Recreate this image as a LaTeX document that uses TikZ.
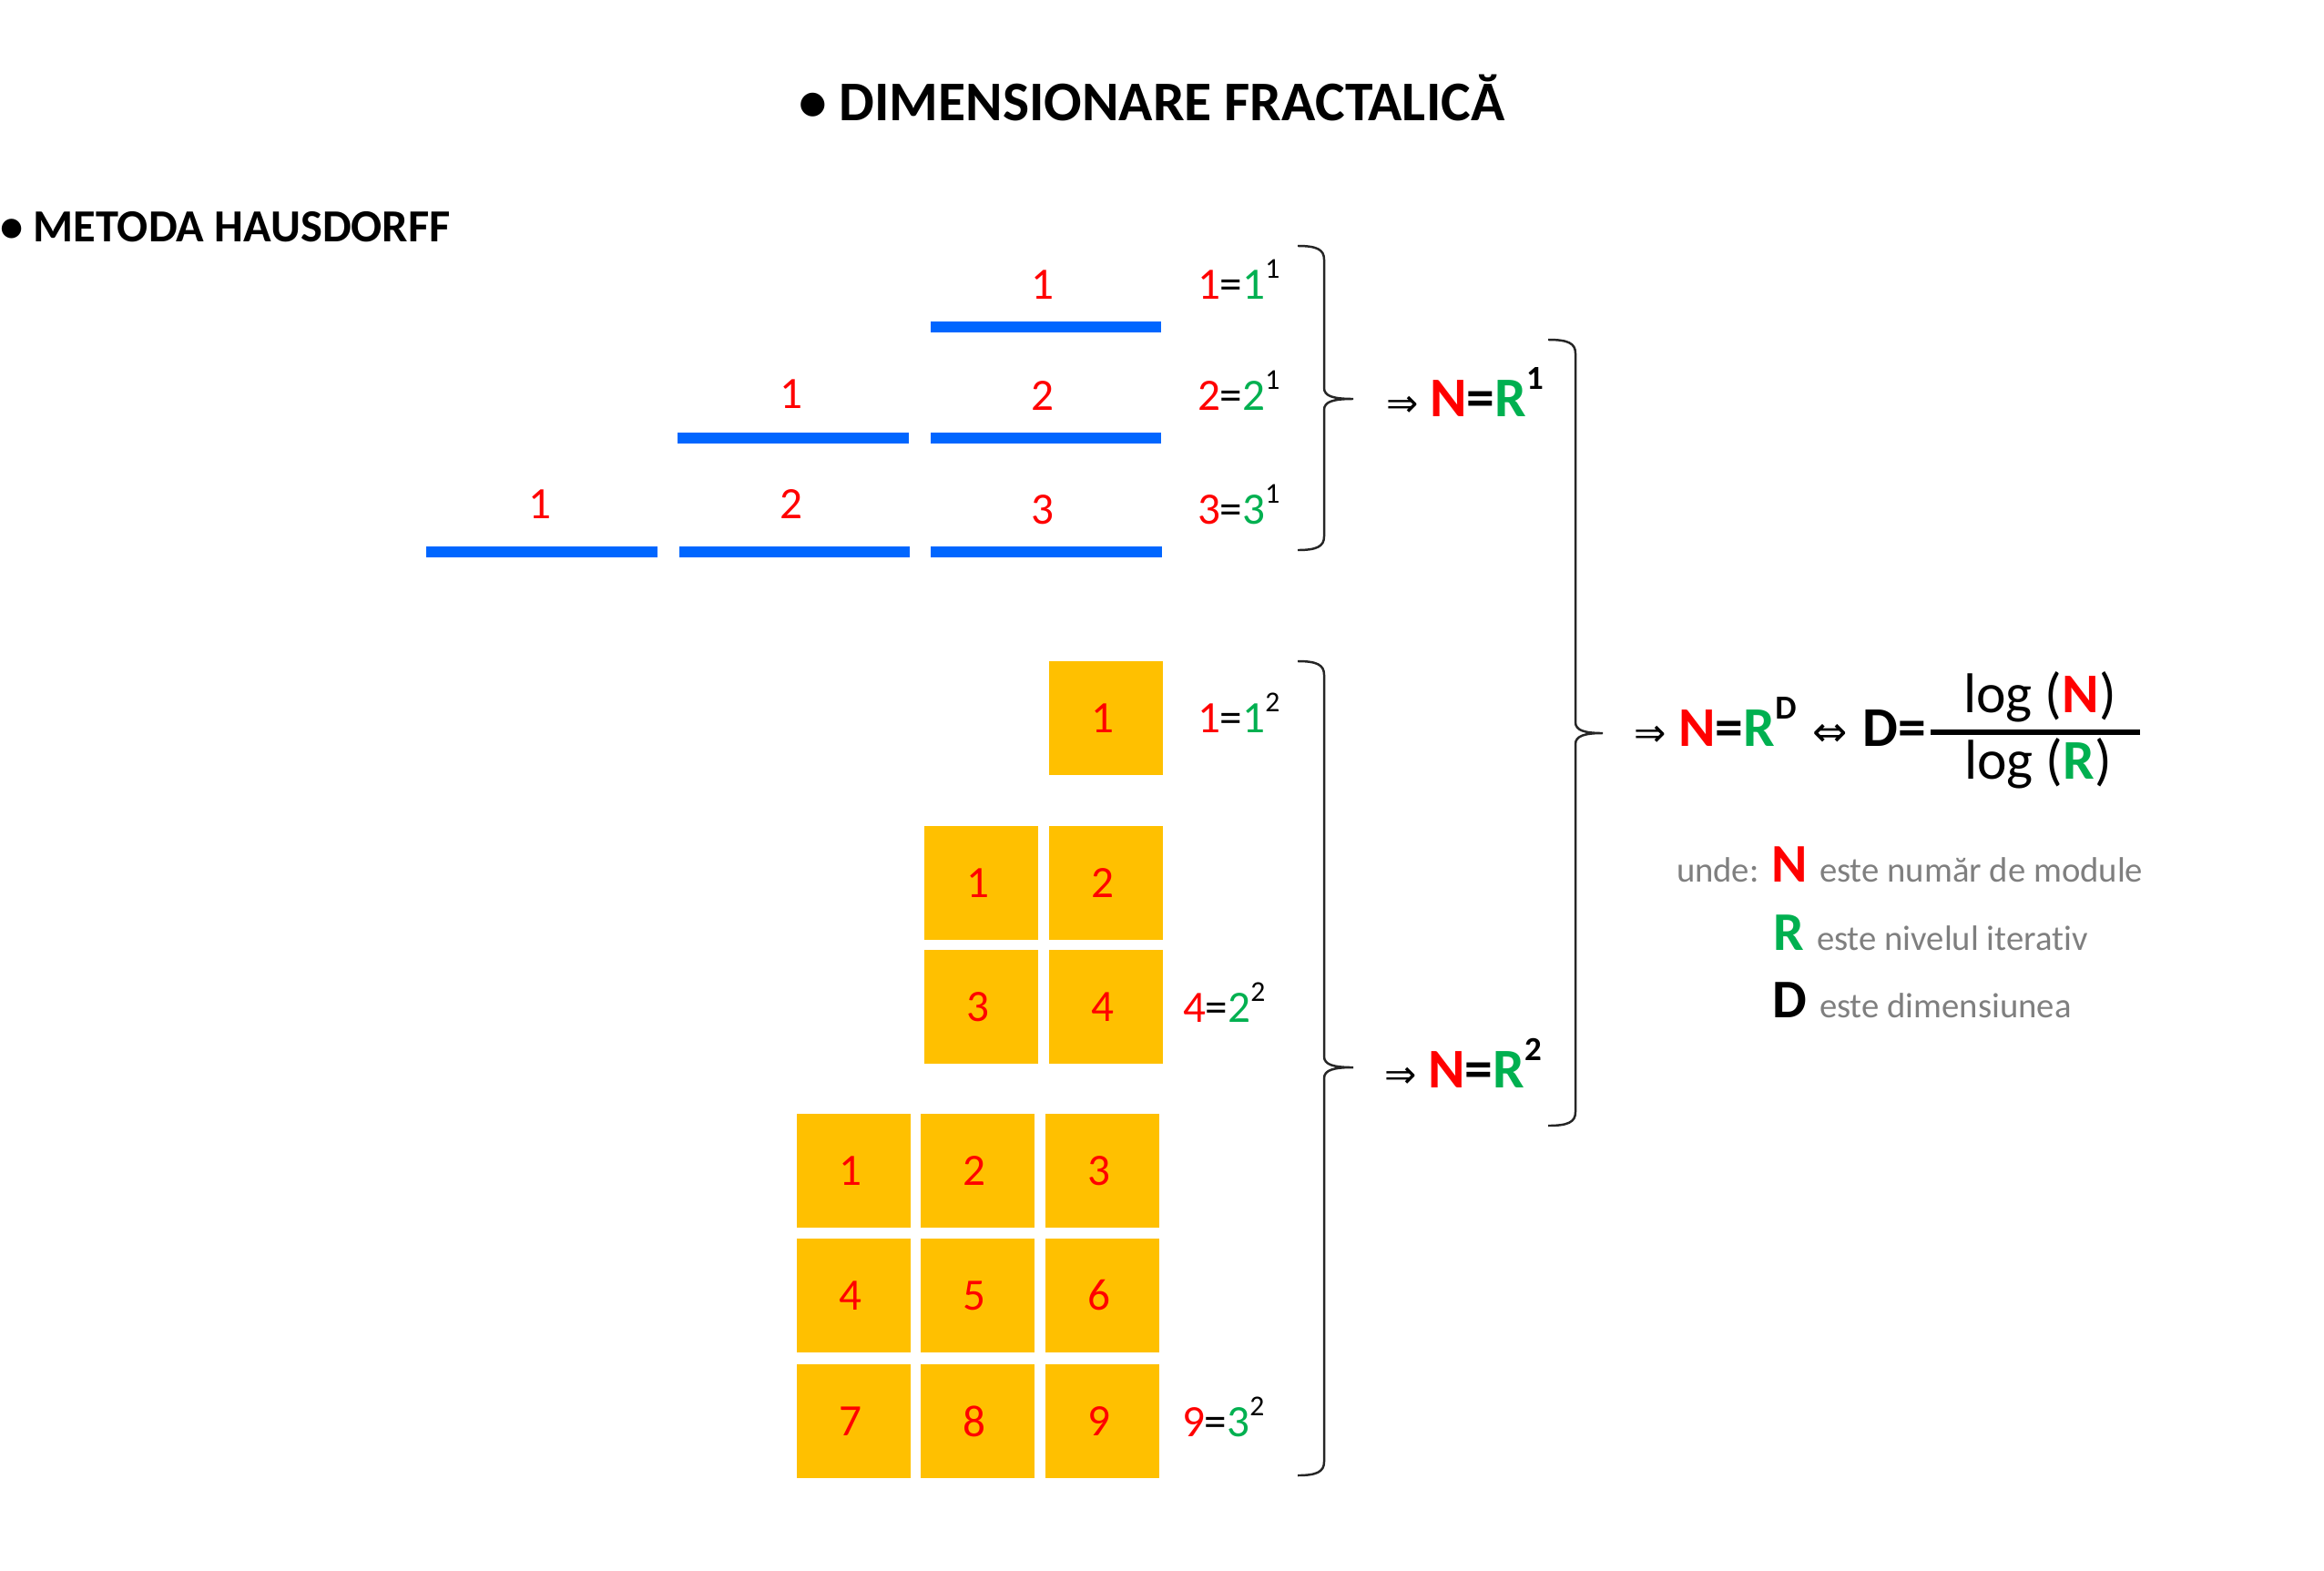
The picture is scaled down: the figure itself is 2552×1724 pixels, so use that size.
\documentclass[tikz,border=0pt]{standalone}
\usepackage{fontspec}
\setmainfont{Carlito}[Ligatures={NoCommon}]
\newfontfamily\arrfont{DejaVu Sans}
\definecolor{nred}{HTML}{FF0000}
\definecolor{ngreen}{HTML}{00B050}
\definecolor{nblue}{HTML}{0066FF}
\definecolor{norange}{HTML}{FFC000}
\definecolor{ngray}{HTML}{7F7F7F}
\newcommand{\fs}[1]{\fontsize{#1}{#1}\selectfont}
\newcommand{\myeq}[3]{{\color{nred}#1}={\color{ngreen}#2}\raisebox{6.5pt}{\fs{9}#3}}
\newcommand{\boldeq}[1]{{\color{nred}N}={\color{ngreen}R}\raisebox{8.5pt}{\fs{10.5}#1}}
\newcommand{\mybrace}[6]{%
  \draw[brace] (#1,#4) .. controls ({#2-8},#4) and (#2,{#4+4}) .. (#2,{#4+15})
    -- (#2,{#5-12}) .. controls (#2,{#5-3}) and ({#2+10},#5) .. (#3,#5)
    .. controls ({#2+10},#5) and (#2,{#5+3}) .. (#2,{#5+12})
    -- (#2,{#6-15}) .. controls (#2,{#6-4}) and ({#2-8},#6) .. (#1,#6);}
\begin{document}
\begin{tikzpicture}[x=0.01cm,y=-0.01cm,
  every node/.style={inner sep=0pt, outer sep=0pt},
  bar/.style={fill=nblue, minimum width=2.53cm, minimum height=0.12cm},
  sq/.style={fill=norange, minimum width=1.25cm, minimum height=1.25cm, text=nred, font=\fs{14},
    execute at begin node=\hspace*{-0.08cm}},
  num/.style={anchor=base, text=nred, font=\fs{14}},
  eqlab/.style={anchor=base west, font=\fs{14}},
  bigeq/.style={anchor=base west, font=\fs{17.5}\bfseries},
  brace/.style={draw=black!85, line width=0.7pt},
  legtxt/.style={anchor=base west, text=ngray, font=\fs{11}},
  legvar/.style={anchor=base west, font=\fs{17}\bfseries}]
\fill[white] (0,0) rectangle (2552,1724);
\useasboundingbox (0,0) rectangle (2552,1724);

% titles
\node[anchor=base west, font=\fs{17.5}\bfseries] (title) at (877,132) {• DIMENSIONARE FRACTALICĂ};
\node[anchor=base west, font=\fs{14.35}\bfseries] (sub) at (0,265) {• METODA HAUSDORFF};

% bars
\node[bar] (b11) at (1148.5,359) {};
\node[bar] (b21) at (871,481) {};
\node[bar] (b22) at (1148.5,481) {};
\node[bar] (b31) at (595,606) {};
\node[bar] (b32) at (872.5,606) {};
\node[bar] (b33) at (1149,606) {};
\node[num] (n11) at (1145,328) {1};
\node[num] (n21) at (869,448) {1};
\node[num] (n22) at (1145,450) {2};
\node[num] (n31) at (593,569) {1};
\node[num] (n32) at (869,569) {2};
\node[num] (n33) at (1145,575) {3};
\node[eqlab] (e1) at (1315,328) {\myeq{1}{1}{1}};
\node[eqlab] (e2) at (1315,450) {\myeq{2}{2}{1}};
\node[eqlab] (e3) at (1315,575) {\myeq{3}{3}{1}};

% squares
\node[sq] (s1) at (1214.5,788.5) {1};
\node[sq] (q11) at (1077.5,969.5) {1};
\node[sq] (q12) at (1214.5,969.5) {2};
\node[sq] (q21) at (1077.5,1105.5) {3};
\node[sq] (q22) at (1214.5,1105.5) {4};
\node[sq] (t11) at (937.5,1285.5) {1};
\node[sq] (t12) at (1073.5,1285.5) {2};
\node[sq] (t13) at (1210.5,1285.5) {3};
\node[sq] (t21) at (937.5,1422.5) {4};
\node[sq] (t22) at (1073.5,1422.5) {5};
\node[sq] (t23) at (1210.5,1422.5) {6};
\node[sq] (t31) at (937.5,1560.5) {7};
\node[sq] (t32) at (1073.5,1560.5) {8};
\node[sq] (t33) at (1210.5,1560.5) {9};
\node[eqlab] (f1) at (1315,804) {\myeq{1}{1}{2}};
\node[eqlab] (f2) at (1299,1122) {\myeq{4}{2}{2}};
\node[eqlab] (f3) at (1298,1577) {\myeq{9}{3}{2}};

% braces
\mybrace{1425}{1454}{1486}{270}{438}{604}
\mybrace{1425}{1454}{1486}{726}{1172}{1620}
\mybrace{1700}{1730}{1760}{373}{805}{1236}

% results
\node[bigeq] (r1) at (1522,457) {{\arrfont\fs{12}\mdseries ⇒}\hspace{3.7pt}\boldeq{1}};
\node[bigeq] (r2) at (1520,1194) {{\arrfont\fs{12}\mdseries ⇒}\hspace{3.7pt}\boldeq{2}};
\node[bigeq] (mainf) at (1794,819) {{\arrfont\fs{12}\mdseries ⇒}\hspace{4pt}\boldeq{D}\hspace{5pt}{\arrfont\fs{13}\mdseries ⇔}\hspace{4.8pt}D=};
\node[fill=black, minimum width=2.3cm, minimum height=0.06cm] (fbar) at (2235,804) {};
\node[anchor=base, font=\fs{17.5}] (numr) at (2240,782) {log ({\bfseries\color{nred}N})};
\node[anchor=base, font=\fs{17.5}] (denr) at (2238,855) {log ({\bfseries\color{ngreen}R})};

% legend
\node[legtxt] (unde) at (1841,968) {unde:};
\node[legvar, text=nred] (vN) at (1945,968) {N};
\node[legtxt] (tN) at (1998,968) {este număr de module};
\node[legvar, text=ngreen] (vR) at (1947,1043) {R};
\node[legtxt] (tR) at (1995,1043) {este nivelul iterativ};
\node[legvar] (vD) at (1946,1117) {D};
\node[legtxt] (tD) at (1998,1117) {este dimensiunea};
\end{tikzpicture}
\end{document}
